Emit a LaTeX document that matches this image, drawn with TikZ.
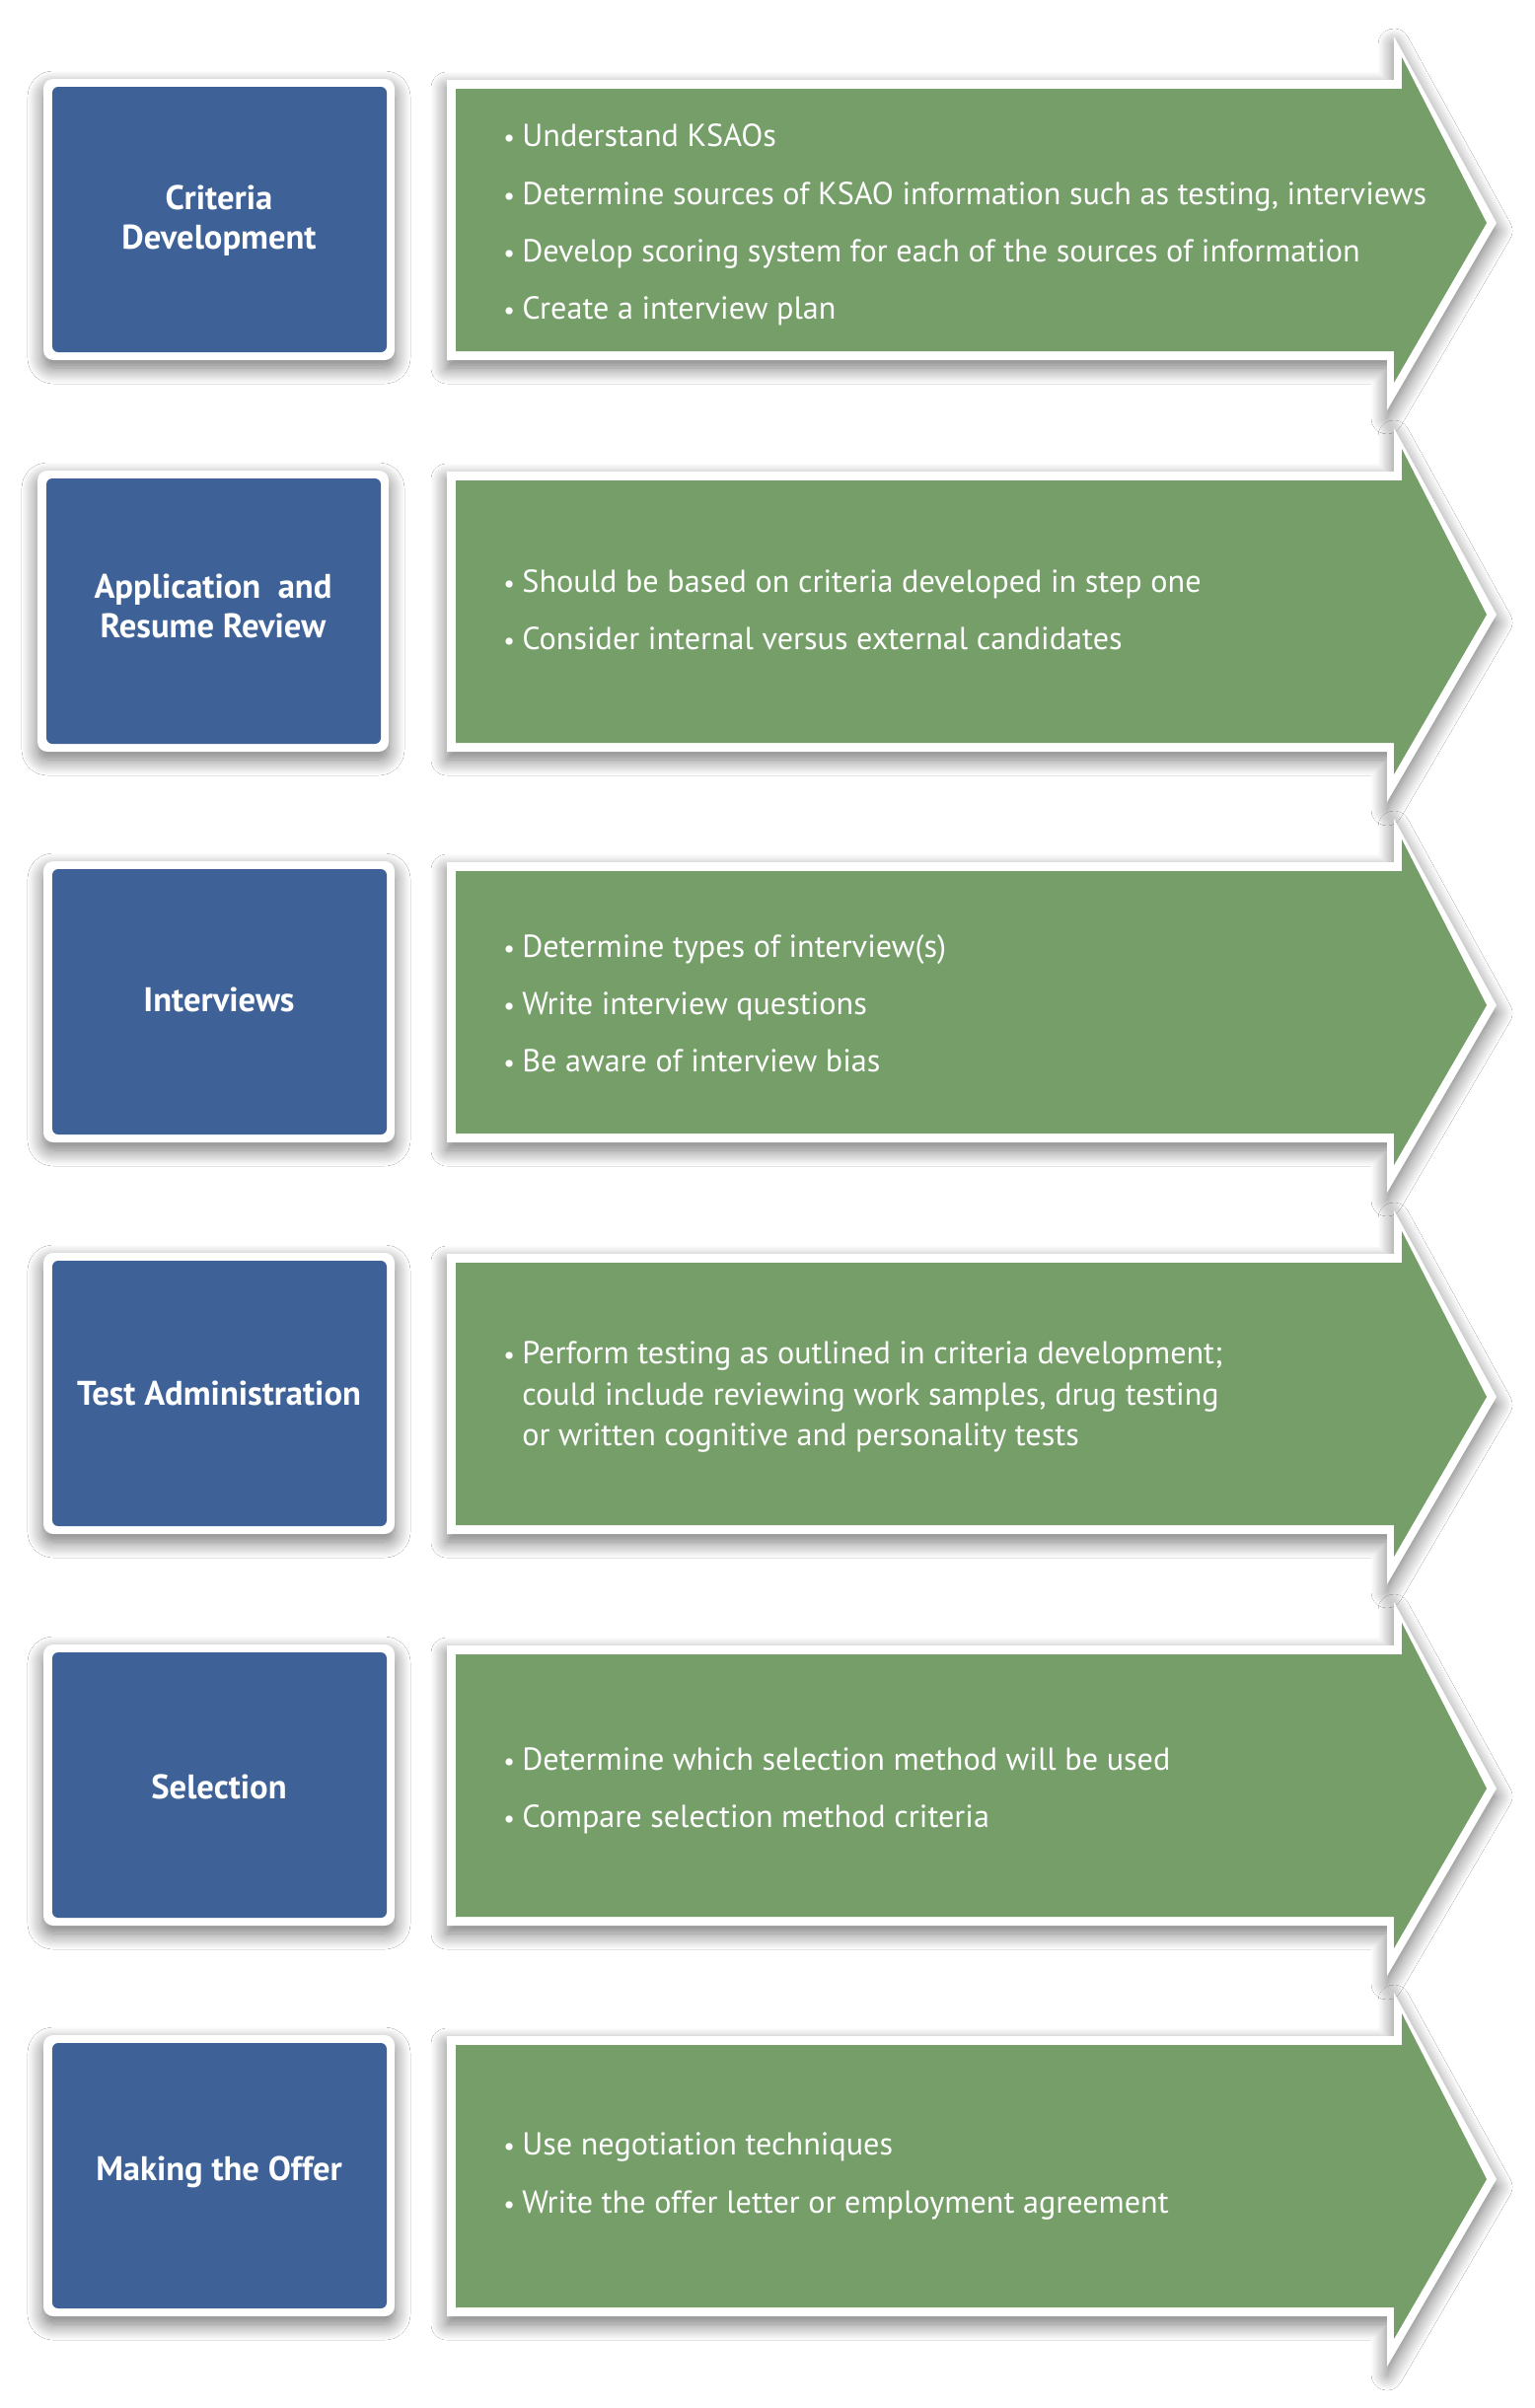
\documentclass[tikz,border=0pt]{standalone}
\usepackage{fontspec}
\setmainfont{PT Sans}
\usetikzlibrary{shadows.blur}
\definecolor{boxblue}{RGB}{62,98,152}
\definecolor{arrowgreen}{RGB}{117,158,104}
\tikzset{
  softshadow/.style={blur shadow={shadow xshift=0pt, shadow yshift=-4pt, shadow blur radius=8pt, shadow opacity=55, shadow blur steps=14}},
  bluelabel/.style={text=white, font=\bfseries\fontsize{17.3}{20}\selectfont, align=center, inner sep=0pt},
  greentext/.style={text=white, anchor=west, align=left, font=\fontsize{16.1}{20.8}\selectfont, inner sep=0pt},
}
\newcommand\bul{\makebox[9.5pt][l]{\scalebox{0.8}{\textbullet}}}
\newcommand\cont{\hspace*{9.5pt}}
% #1 top, #2 dx of blue box, #3 name, #4 label, #5 items, #6 text y-shift
\newcommand\steprow[6]{%
  \path[fill=white, softshadow, rounded corners=5pt] ({44+#2},{#1-1}) rectangle ({400+#2},{#1+284});
  \path[fill=boxblue, rounded corners=3pt] ({53+#2},{#1+7}) rectangle ({392+#2},{#1+276});
  \node[bluelabel] (#3-label) at ({222+#2},{#1+143+#6}) {#4};
  \path[fill=white, softshadow] (453,#1) -- (1413,#1) -- (1413,{#1-44}) -- (1517,{#1+145}) -- (1406,{#1+335}) -- (1406,{#1+284}) -- (453,{#1+284}) -- cycle;
  \path[fill=arrowgreen] (462,{#1+9}) -- (1421,{#1+9}) -- (1421,{#1-23}) -- (1507,{#1+145}) -- (1413,{#1+307}) -- (1413,{#1+275}) -- (462,{#1+275}) -- cycle;
  \node[greentext] (#3-items) at (510,{#1+147+#6}) {#5};
}
\begin{document}
\begin{tikzpicture}[x=0.5pt,y=-0.5pt]
\useasboundingbox (0,0) rectangle (1555,2441);
\fill[white] (0,0) rectangle (1555,2441);
\steprow{81}{0}{criteria}{Criteria\\Development}{\bul Understand KSAOs\\[8.3pt]\bul Determine sources of KSAO information such as testing, interviews\\[8.3pt]\bul Develop scoring system for each of the sources of information\\[8.3pt]\bul Create a interview plan}{0}
\steprow{478}{-6}{application}{Application~ and\\Resume Review}{\bul Should be based on criteria developed in step one\\[8.3pt]\bul Consider internal versus external candidates}{-7}
\steprow{874}{0}{interviews}{Interviews}{\bul Determine types of interview(s)\\[8.3pt]\bul Write interview questions\\[8.3pt]\bul Be aware of interview bias}{-4}
\steprow{1271}{0}{test}{Test Administration}{\bul Perform testing as outlined in criteria development;\\\cont could include reviewing work samples, drug testing\\\cont or written cognitive and personality tests}{-2}
\steprow{1668}{0}{selection}{Selection}{\bul Determine which selection method will be used\\[8.3pt]\bul Compare selection method criteria}{0}
\steprow{2064}{0}{offer}{Making the Offer}{\bul Use negotiation techniques\\[8.3pt]\bul Write the offer letter or employment agreement}{-5}
\end{tikzpicture}
\end{document}
